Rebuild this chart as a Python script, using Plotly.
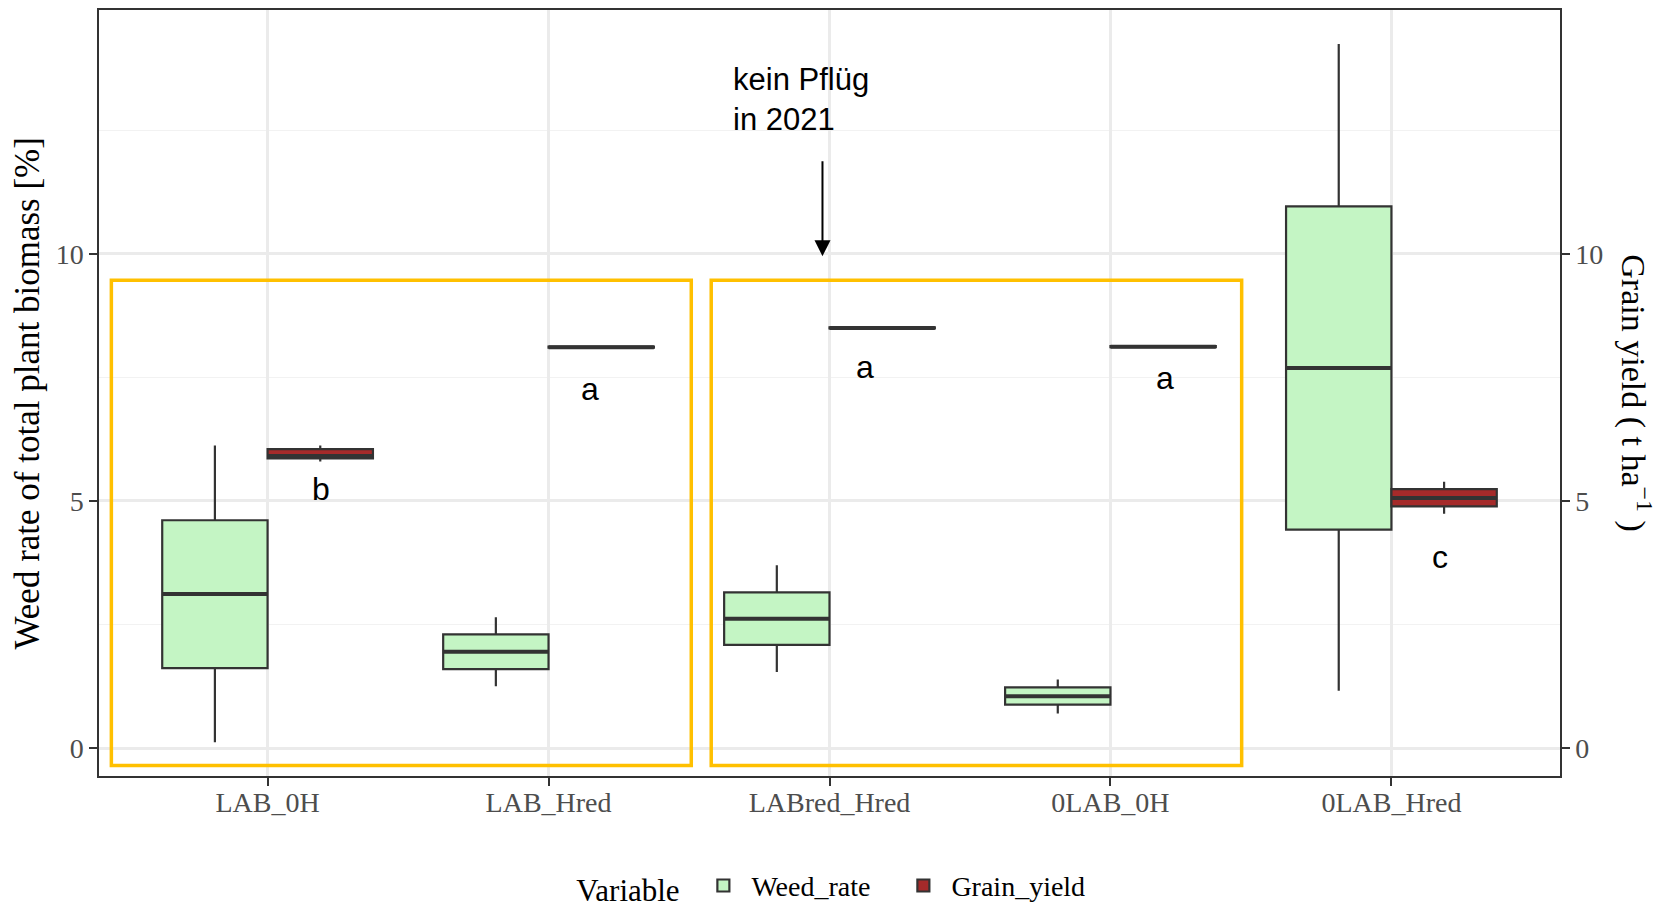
import plotly.graph_objects as go

categories = ["LAB_0H", "LAB_Hred", "LABred_Hred", "0LAB_0H", "0LAB_Hred"]

weed_low = [0.12, 1.25, 1.54, 0.70, 1.16]
weed_q1 = [1.62, 1.60, 2.09, 0.88, 4.42]
weed_med = [3.12, 1.95, 2.62, 1.05, 7.69]
weed_q3 = [4.61, 2.30, 3.15, 1.23, 10.96]
weed_high = [6.12, 2.65, 3.70, 1.39, 14.24]

grain_low = [5.80, 8.09, 8.48, 8.10, 4.74]
grain_q1 = [5.86, 8.10, 8.49, 8.11, 4.89]
grain_med = [5.91, 8.11, 8.50, 8.12, 5.06]
grain_q3 = [6.05, 8.12, 8.51, 8.13, 5.24]
grain_high = [6.12, 8.13, 8.52, 8.14, 5.39]

letters = ["b", "a", "a", "a", "c"]
letter_x = [0.19, 1.148, 2.125, 3.193, 4.174]
letter_y = [5.24, 7.26, 7.71, 7.49, 3.86]

y_ticks = [0, 5, 10]
y_range = [-0.563, 14.93]
x_range = [-0.6, 4.6]

DODGE = 0.75
BOX_W = DODGE / 2
pos = list(range(len(categories)))
weed_x = [p - BOX_W / 2 for p in pos]
grain_x = [p + BOX_W / 2 for p in pos]

GREEN = "#C4F5C4"
RED = "#A52A2A"
LINE = "#333333"
SERIF = "Liberation Serif, Times New Roman, serif"
SANS = "Liberation Sans, Arial, sans-serif"

fig = go.Figure()


def add_box(name, xs, lo, q1, med, q3, hi, fill):
    fig.add_trace(go.Box(
        name=name, x=xs, lowerfence=lo, q1=q1, median=med, q3=q3, upperfence=hi,
        width=BOX_W, fillcolor=fill, line=dict(color=LINE, width=2.2),
        whiskerwidth=0, boxpoints=False, hoverinfo="skip", showlegend=True,
    ))
    # thicker median line (ggplot style)
    mx, my = [], []
    for x, m in zip(xs, med):
        mx += [x - BOX_W / 2, x + BOX_W / 2, None]
        my += [m, m, None]
    fig.add_trace(go.Scatter(x=mx, y=my, mode="lines", line=dict(color=LINE, width=4),
                             showlegend=False, hoverinfo="skip"))


add_box("Weed_rate", weed_x, weed_low, weed_q1, weed_med, weed_q3, weed_high, GREEN)
add_box("Grain_yield", grain_x, grain_low, grain_q1, grain_med, grain_q3, grain_high, RED)

# invisible trace to activate right axis
fig.add_trace(go.Scatter(x=[pos[0]], y=[None], yaxis="y2", showlegend=False, hoverinfo="skip"))

# yellow highlight rectangles
rects = [(-0.556, 1.508, -0.351, 9.465), (1.579, 3.467, -0.351, 9.465)]
for x0, x1, y0, y1 in rects:
    fig.add_shape(type="rect", xref="x", yref="y", x0=x0, x1=x1, y0=y0, y1=y1,
                  line=dict(color="#FFC000", width=3.5), layer="above")

annotations = []
for t, x, y in zip(letters, letter_x, letter_y):
    annotations.append(dict(x=x, y=y, xref="x", yref="y", text=t, showarrow=False,
                            font=dict(family=SANS, size=32, color="black"),
                            xanchor="center", yanchor="middle"))

annotations.append(dict(x=1.649, y=13.13, xref="x", yref="y", text="kein Pflüg<br>in 2021",
                        showarrow=False, align="left", xanchor="left", yanchor="middle",
                        font=dict(family=SANS, size=31, color="black")))
annotations.append(dict(x=1.975, y=9.95, xref="x", yref="y", ax=1.975, ay=11.9,
                        axref="x", ayref="y", text="", showarrow=True, arrowhead=2,
                        arrowsize=1.6, arrowwidth=2, arrowcolor="black"))

annotations.append(dict(x=-0.049, y=0.5, xref="paper", yref="paper",
                        text="Weed rate of total plant biomass [%]", textangle=-90,
                        showarrow=False, xanchor="center", yanchor="middle",
                        font=dict(family=SERIF, size=35, color="black")))
annotations.append(dict(x=1.0525, y=0.5, xref="paper", yref="paper",
                        text="Grain yield ( t ha<sup>−1</sup> )", textangle=90,
                        showarrow=False, xanchor="center", yanchor="middle",
                        font=dict(family=SERIF, size=34, color="black")))

axis_common = dict(showline=True, linecolor=LINE, linewidth=1.5, ticks="outside",
                   ticklen=8, tickwidth=1.5, tickcolor=LINE, zeroline=False,
                   tickfont=dict(family=SERIF, size=28, color="#4D4D4D"))

# page body has an 8px margin; the figure is offset by it and clipped at the window edge
fig.update_layout(
    width=1661, height=916,
    margin=dict(l=91, r=109, t=0, b=148),
    plot_bgcolor="white", paper_bgcolor="white",
    xaxis=dict(range=x_range, tickvals=pos, ticktext=categories, showgrid=True,
               gridcolor="#EBEBEB", gridwidth=2.5, mirror=True, ticklabelstandoff=-7,
               **axis_common),
    yaxis=dict(range=y_range, tickvals=y_ticks, showgrid=True, gridcolor="#EBEBEB",
               gridwidth=2.5, mirror=True,
               minor=dict(dtick=2.5, tick0=0, showgrid=True, gridcolor="#F2F2F2", gridwidth=1.3),
               **axis_common),
    yaxis2=dict(range=y_range, tickvals=y_ticks, overlaying="y", side="right",
                showgrid=False, **axis_common),
    legend=dict(orientation="h", x=0.504, xanchor="center", y=-0.144, yanchor="middle",
                entrywidth=139, itemwidth=46,
                title=dict(text="Variable ", side="left", font=dict(family=SERIF, size=31, color="black")),
                font=dict(family=SERIF, size=28, color="black")),
    annotations=annotations,
)

fig.write_html("out.html")
